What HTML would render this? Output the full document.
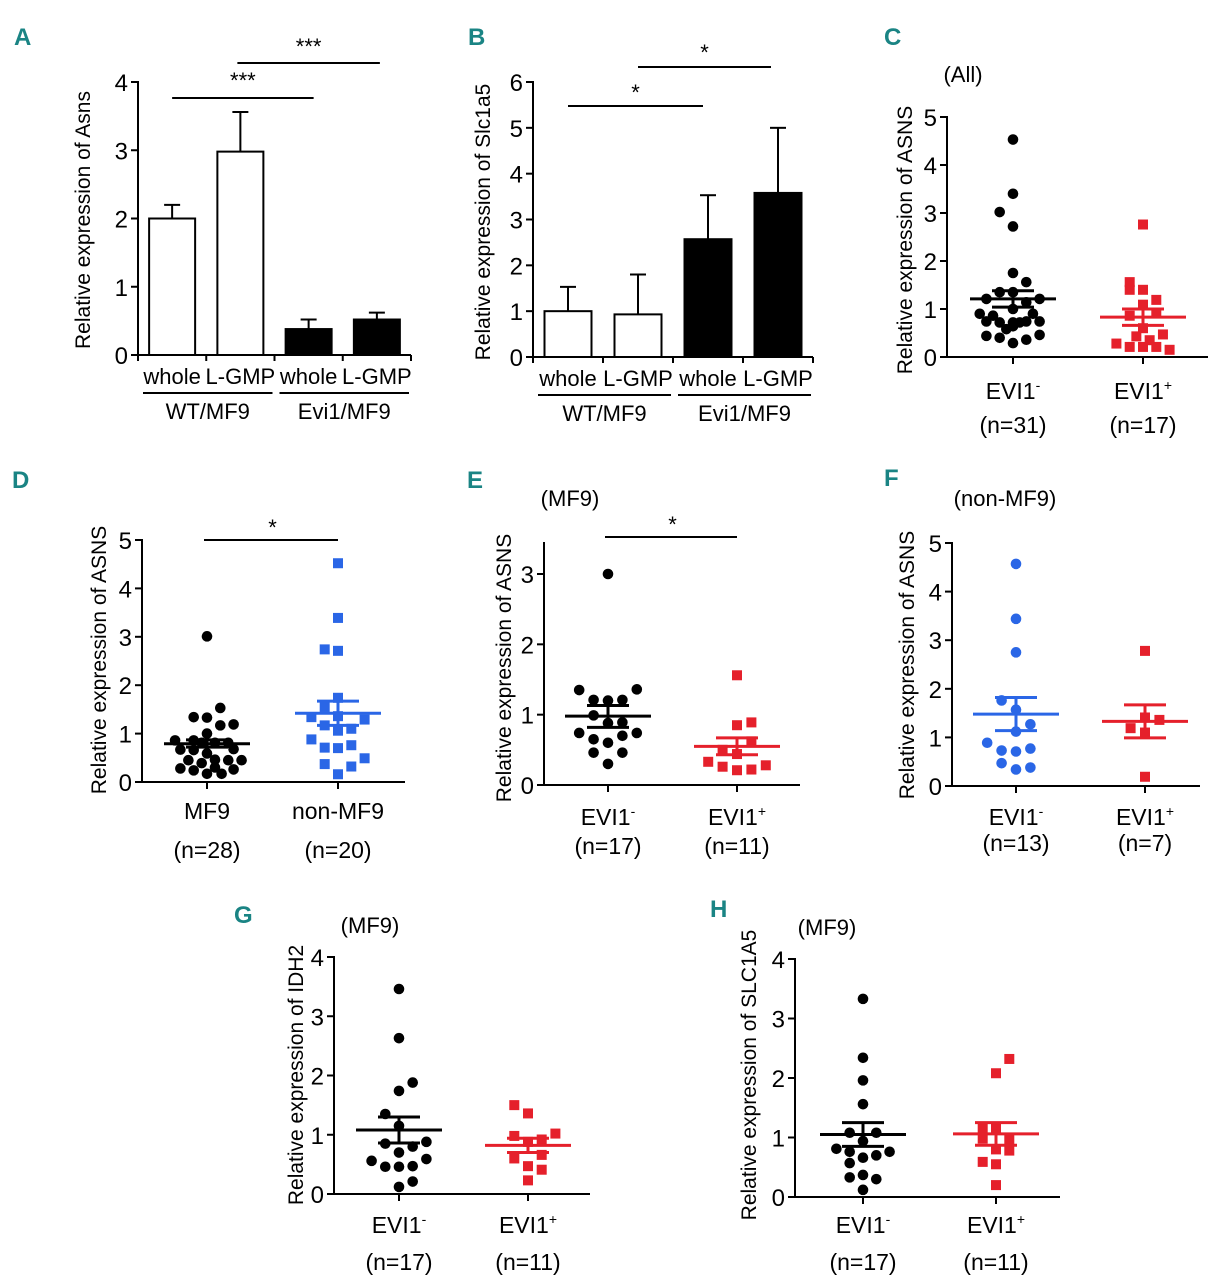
<!DOCTYPE html>
<html><head><meta charset="utf-8">
<style>
html,body{margin:0;padding:0;background:#fff;}
svg{display:block;font-family:"Liberation Sans",sans-serif;}
.pl{font-family:"Liberation Sans",sans-serif;font-weight:bold;fill:#1a8484;font-size:24px;}
</style></head>
<body>
<svg id="fig" width="1224" height="1280" viewBox="0 0 1224 1280" xmlns="http://www.w3.org/2000/svg">
<rect width="1224" height="1280" fill="#fff"/>
<g id="root"></g>
</svg>
<script>
// ---- Bar chart data ----
const barCats = ["whole","L-GMP","whole","L-GMP"];
const barGroups = ["WT/MF9","Evi1/MF9"];
const aVals = [2.0, 2.98, 0.38, 0.52];
const aErr = [0.2, 0.58, 0.14, 0.1];
const aTicks = [0,1,2,3,4];
const bVals = [1.0, 0.93, 2.57, 3.58];
const bErr = [0.53, 0.87, 0.96, 1.42];
const bTicks = [0,1,2,3,4,5,6];

// ---- Scatter data (values; slot = jitter column index) ----
const cBlackVals=[4.53,3.4,3.02,2.72,1.75,1.56,1.21,1.35,1.35,1.14,1.21,1.0,0.9,0.86,0.74,0.72,0.72,0.74,0.9,0.74,0.58,0.64,0.44,0.4,0.29,0.36,0.46,0.72];
const cBlackSlots=[0,0,-1,0,0,1,-2,-1,0,1,2,0,-2.5,-1.5,-2,-1,0,1,1.5,2,-0.5,0,-2,-1,0,1,2,0.5];
const cRedVals=[2.76,1.56,1.4,1.4,1.19,1.09,0.86,0.92,0.6,0.43,0.47,0.28,0.21,0.21,0.35,0.21,0.15];
const cRedSlots=[0,-1,-1,0,1,0,-1,1,0,-0.5,1.5,-2,-1,0,0.5,1,2];
const cStats=[[1.21,1.04,1.38],[0.83,0.66,1.0]];

const dBlackVals=[3.01,1.53,1.34,1.33,1.17,1.19,1.0,0.86,0.67,0.86,0.81,0.81,0.81,0.68,0.66,0.59,0.45,0.39,0.46,0.45,0.45,0.28,0.24,0.17,0.3,0.17,0.26];
const dBlackSlots=[0,1,-1,0,1,2,0,-2.4,-2,-1,-0.4,0.6,1.6,2,-1,0,-1.4,-0.4,0.6,1.6,2.6,-2,-1,0,0.6,1.1,2];
const dBlueVals=[4.52,3.39,2.74,2.71,1.74,1.55,1.34,1.36,1.29,1.17,1.06,1.1,0.88,0.71,0.7,0.76,0.49,0.37,0.32,0.16];
const dBlueSlots=[0,0,-1,0,0,-1,-2,0,2,-1,0,1,-2,-1,0,1,2,-1,1,0];
const dStats=[[0.79,0.72,0.87],[1.42,1.17,1.67]];

const eBlackVals=[3.0,1.35,1.36,1.21,1.2,1.21,0.99,0.88,0.89,0.74,0.74,0.65,0.6,0.7,0.46,0.46,0.3];
const eBlackSlots=[0,-2,2,-1,0,1,-1,0,1,-2,2,-1,0,1,-1,1,0];
const eRedVals=[1.56,0.85,0.89,0.5,0.62,0.44,0.33,0.26,0.21,0.22,0.28];
const eRedSlots=[0,0,1,-1,1,0,-2,-1,0,1,2];
const eStats=[[0.98,0.82,1.13],[0.55,0.43,0.67]];

const fBlueVals=[4.57,3.44,2.75,1.76,1.57,1.27,1.12,0.89,0.73,0.71,0.77,0.47,0.34,0.38];
const fBlueSlots=[0,0,0,-1,0,1,0,-2,-1,0,1,-1,0,1];
const fRedVals=[2.78,1.41,1.36,1.19,1.1,0.19];
const fRedSlots=[0,0,1,-1,0,0];
const fStats=[[1.48,1.14,1.82],[1.33,0.99,1.67]];

const gBlackVals=[3.46,2.63,1.88,1.74,1.35,1.15,0.85,0.8,0.88,0.7,0.56,0.46,0.46,0.47,0.59,0.21,0.12];
const gBlackSlots=[0,0,1,0,-1,0,-1,1,2,0,-2,-1,0,1,2,1,0];
const gRedVals=[1.5,1.36,0.98,1.02,0.92,0.88,0.6,0.66,0.47,0.41,0.23];
const gRedSlots=[-1,0,-1,2,1,0,-1,1,0,1,0];
const gStats=[[1.08,0.86,1.3],[0.82,0.7,0.94]];

const hBlackVals=[3.33,2.34,1.96,1.56,1.08,1.08,0.94,0.81,0.76,0.76,0.66,0.7,0.57,0.33,0.37,0.3,0.12];
const hBlackSlots=[0,0,0,0,-1,1,0,-2,-1,2,0,1,-1,-1,0,1,0];
const hRedVals=[2.32,2.08,1.15,1.15,0.98,0.96,0.8,0.78,0.59,0.55,0.2];
const hRedSlots=[1,0,-1,0,-1,1,0,1,-1,0,0];
const hStats=[[1.05,0.85,1.25],[1.06,0.87,1.25]];

const ticks5=[0,1,2,3,4,5], ticks3=[0,1,2,3], ticks4=[0,1,2,3,4];

const NS="http://www.w3.org/2000/svg";
const root=document.getElementById('root');
function mk(tag,attrs,parent,text){
  const e=document.createElementNS(NS,tag);
  for(const k in attrs)e.setAttribute(k,attrs[k]);
  if(text!==undefined)e.textContent=text;
  (parent||root).appendChild(e);return e;
}
function line(g,x1,y1,x2,y2,w){return mk('line',{x1,y1,x2,y2,stroke:'#000','stroke-width':w||2},g);}
function txt(g,x,y,s,size,anchor){return mk('text',{x,y,'font-size':size||22,'text-anchor':anchor||'middle',fill:'#000'},g,s);}
function ytitle(g,x,y,s){const t=mk('text',{x:0,y:0,'font-size':21,'text-anchor':'middle',fill:'#000','xml:space':'preserve',transform:`translate(${x},${y}) rotate(-90)`},g,s);
  
  return t;}
function letter(x,y,s){const t=mk('text',{x,y,class:'pl'},root,s);
  
  }
function yAxis(g,ax,y0,yTop,vmax,ticks){
  const ys=v=>y0-(y0-yTop)*v/vmax;
  const a=line(g,ax,y0,ax,yTop-1,2);
  
  
  ticks.forEach(t=>{line(g,ax-7,ys(t),ax,ys(t),2);
    const l=txt(g,ax-10,ys(t)+9,String(t),24,'end');
    
    });
  return ys;
}

// ---- Bar panel ----
function barPanel(id,P,vals,errs,ticks){
  const g=mk('g',{});
  
  
  const ys=yAxis(g,P.ax,P.y0,P.yTop,P.vmax,ticks);
  line(g,P.ax,P.y0,P.xEnd,P.y0,2);
  const step=(P.xEnd-P.ax)/vals.length;
  for(let i=0;i<=vals.length;i++)line(g,P.ax+i*step,P.y0,P.ax+i*step,P.y0+6,2);
  vals.forEach((v,i)=>{
    const cx=P.ax+step*(i+0.5), w=P.bw;
    const filled=i>=2;
    const top=ys(v+errs[i]);
    line(g,cx,ys(v),cx,top,2);
    line(g,cx-8,top,cx+8,top,2);
    const r=mk('rect',{x:cx-w/2,y:ys(v),width:w,height:P.y0-ys(v),fill:filled?'#000':'#fff',stroke:'#000','stroke-width':2},g);
    
    
    const l=txt(g,cx,P.y0+29,barCats[i],22);
    
    
  });
  barGroups.forEach((s,k)=>{
    const x1=P.ax+step*2*k+5, x2=P.ax+step*2*(k+1)-2;
    line(g,x1,P.y0+38,x2,P.y0+38,2);
    const l=txt(g,(x1+x2)/2,P.y0+64,s,22);
    
    
  });
  P.sig.forEach(s=>{
    const a=P.ax+step*(s[0]+0.5)-s[4], b=P.ax+step*(s[1]+0.5)+s[5];
    line(g,a,s[2],b,s[2],2);
    const t=txt(g,(a+b)/2,s[3],s[6],22);
    
    
  });
  ytitle(g,P.tx,P.ty,P.title);
}
barPanel('a',{ax:138,y0:355,yTop:82,vmax:4,xEnd:411,bw:46,tx:90,ty:220,title:'Relative expression of  Asns',
  sig:[[0,2,98,88,0,5,'***'],[1,3,63,54,3,3,'***']]},aVals,aErr,aTicks);
barPanel('b',{ax:533,y0:357,yTop:82,vmax:6,xEnd:813,bw:47,tx:490,ty:222,title:'Relative expression of  Slc1a5',
  sig:[[0,2,106,100,0,-5,'*'],[1,3,67,60,0,-7,'*']]},bVals,bErr,bTicks);

// ---- Scatter panel ----
function scatterPanel(id,P,groups,stats,ticks){
  const g=mk('g',{});
  
  
  const ys=yAxis(g,P.ax,P.y0,P.yTop,P.vmax,ticks);
  line(g,P.ax,P.y0,P.xEnd,P.y0,2);
  groups.forEach((gr,k)=>{
    const cx=P.cx[k];
    line(g,cx,P.y0,cx,P.y0+7,2);
    gr.vals.forEach((v,i)=>{
      const x=cx+gr.slots[i]*P.unit, y=ys(v);
      let m;
      if(gr.shape==='c') m=mk('circle',{cx:x,cy:y,r:5.3,fill:gr.color},g);
      else m=mk('rect',{x:x-5,y:y-5,width:10,height:10,fill:gr.color},g);
      
      
    });
    const st=stats[k];
    const ml=line(g,cx-43,ys(st[0]),cx+43,ys(st[0]),3);
    ml.setAttribute('stroke',gr.color);
    
    
    [[cx,ys(st[1]),cx,ys(st[2])],[cx-21,ys(st[1]),cx+21,ys(st[1])],[cx-21,ys(st[2]),cx+21,ys(st[2])]].forEach(c=>{
      const e=line(g,c[0],c[1],c[2],c[3],3);e.setAttribute('stroke',gr.color);
      
      });
    const lab=mk('text',{x:cx,y:P.y0+P.l1,'font-size':23,'text-anchor':'middle',fill:'#000'},g);
    
    
    if(gr.lab.sup!==undefined){
      lab.appendChild(document.createTextNode(gr.lab.t));
      mk('tspan',{'font-size':14,dy:-9},lab,gr.lab.sup);
    } else lab.textContent=gr.lab.t;
    const n=txt(g,cx,P.y0+P.l2,gr.n,23);
    
    
  });
  if(P.sub){const s=txt(g,P.sub[0],P.sub[1],P.sub[2],22);
    
    }
  if(P.sig){line(g,P.cx[0]-3,P.sig[0],P.cx[1],P.sig[0],2);
    const s=txt(g,(P.cx[0]+P.cx[1])/2,P.sig[0]-5,'*',22);
    
    }
  ytitle(g,P.tx,P.ty,P.title);
}
const BLK='#000', RED='#e5202b', BLU='#2a66e6';
scatterPanel('c',{ax:947,y0:357,yTop:117,vmax:5,xEnd:1208,cx:[1013,1143],unit:13.3,l1:42,l2:76,tx:912,ty:240,
  title:'Relative expression of  ASNS',sub:[963,82,'(All)']},
  [{vals:cBlackVals,slots:cBlackSlots,color:BLK,shape:'c',name:'evi1-neg',lab:{t:'EVI1',sup:'-'},n:'(n=31)'},
   {vals:cRedVals,slots:cRedSlots,color:RED,shape:'s',name:'evi1-pos',lab:{t:'EVI1',sup:'+'},n:'(n=17)'}],cStats,ticks5);
scatterPanel('d',{ax:142,y0:782,yTop:540,vmax:5,xEnd:405,cx:[207,338],unit:13.3,l1:37,l2:76,tx:106,ty:660,
  title:'Relative expression of  ASNS',sig:[540]},
  [{vals:dBlackVals,slots:dBlackSlots,color:BLK,shape:'c',name:'mf9',lab:{t:'MF9'},n:'(n=28)'},
   {vals:dBlueVals,slots:dBlueSlots,color:BLU,shape:'s',name:'non-mf9',lab:{t:'non-MF9'},n:'(n=20)'}],dStats,ticks5);
scatterPanel('e',{ax:544,y0:785,yTop:574,vmax:3,xEnd:800,cx:[608,737],unit:14.4,l1:40,l2:69,tx:511,ty:668,
  title:'Relative expression of  ASNS',sub:[570,506,'(MF9)'],sig:[537]},
  [{vals:eBlackVals,slots:eBlackSlots,color:BLK,shape:'c',name:'evi1-neg',lab:{t:'EVI1',sup:'-'},n:'(n=17)'},
   {vals:eRedVals,slots:eRedSlots,color:RED,shape:'s',name:'evi1-pos',lab:{t:'EVI1',sup:'+'},n:'(n=11)'}],eStats,ticks3);
{
  const ex=mk('line',{x1:544,y1:574,x2:544,y2:542,stroke:'#000','stroke-width':2});
  
  
}
scatterPanel('f',{ax:952,y0:786,yTop:543,vmax:5,xEnd:1200,cx:[1016,1145],unit:14.4,l1:39,l2:65,tx:914,ty:665,
  title:'Relative expression of  ASNS',sub:[1005,506,'(non-MF9)']},
  [{vals:fBlueVals,slots:fBlueSlots,color:BLU,shape:'c',name:'evi1-neg',lab:{t:'EVI1',sup:'-'},n:'(n=13)'},
   {vals:fRedVals,slots:fRedSlots,color:RED,shape:'s',name:'evi1-pos',lab:{t:'EVI1',sup:'+'},n:'(n=7)'}],fStats,ticks5);
scatterPanel('g',{ax:334,y0:1194,yTop:957,vmax:4,xEnd:590,cx:[399,528],unit:13.7,l1:39,l2:76,tx:303,ty:1075,
  title:'Relative expression of  IDH2',sub:[370,933,'(MF9)']},
  [{vals:gBlackVals,slots:gBlackSlots,color:BLK,shape:'c',name:'evi1-neg',lab:{t:'EVI1',sup:'-'},n:'(n=17)'},
   {vals:gRedVals,slots:gRedSlots,color:RED,shape:'s',name:'evi1-pos',lab:{t:'EVI1',sup:'+'},n:'(n=11)'}],gStats,ticks4);
scatterPanel('h',{ax:795,y0:1197,yTop:959,vmax:4,xEnd:1060,cx:[863,996],unit:13.3,l1:36,l2:73,tx:756,ty:1075,
  title:'Relative expression of  SLC1A5',sub:[827,935,'(MF9)']},
  [{vals:hBlackVals,slots:hBlackSlots,color:BLK,shape:'c',name:'evi1-neg',lab:{t:'EVI1',sup:'-'},n:'(n=17)'},
   {vals:hRedVals,slots:hRedSlots,color:RED,shape:'s',name:'evi1-pos',lab:{t:'EVI1',sup:'+'},n:'(n=11)'}],hStats,ticks4);

letter(14,45,'A');letter(468,45,'B');letter(884,45,'C');
letter(12,488,'D');letter(467,488,'E');letter(884,486,'F');
letter(234,923,'G');letter(710,917,'H');
</script>
</body></html>
